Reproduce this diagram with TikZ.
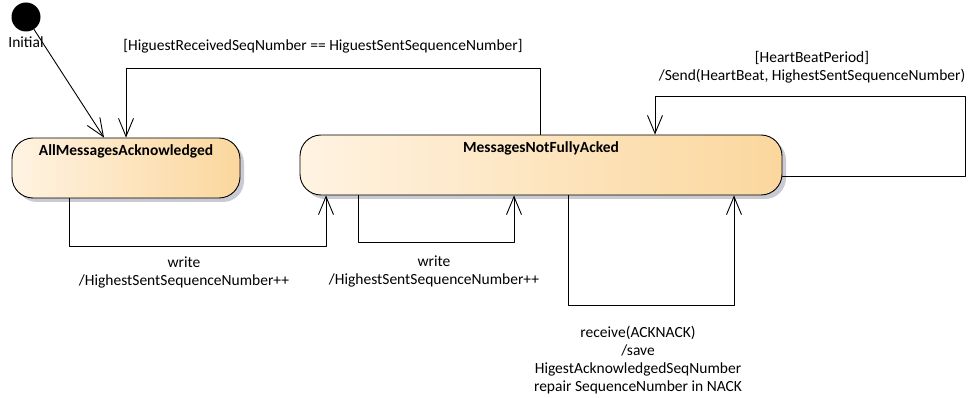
\documentclass[tikz,border=0pt]{standalone}
\usepackage{fontspec}
\setmainfont{Carlito}
\usetikzlibrary{arrows.meta, shadows}
\definecolor{stateleft}{RGB}{255,243,226}
\definecolor{stateright}{RGB}{251,215,157}
\definecolor{stateshadow}{RGB}{202,202,210}
\begin{document}
\begin{tikzpicture}[line cap=round,line join=round,x=1pt,y=-1pt,
    font=\fontsize{15.5}{18}\selectfont,
    state/.style={draw, line width=0.9pt, rounded corners=21pt, inner sep=0pt,
        left color=stateleft, right color=stateright,
        drop shadow={shadow xshift=4pt, shadow yshift=-4pt, fill=stateshadow, opacity=1}},
    statetitle/.style={anchor=north, yshift=-4pt, font=\fontsize{15.5}{18}\selectfont\bfseries},
    trans/.style={line width=0.9pt, -{Straight Barb[length=18pt,width=15pt,line width=0.9pt]}},
    translabel/.style={align=center, inner sep=0pt}]
    \useasboundingbox (0,0) rectangle (975,398);

    % States
    \node[circle, fill=black, minimum size=29pt, inner sep=0pt] (init) [label={[yshift=-2pt]below:Initial}] at (26,17) {};
    \node[state, minimum width=228pt, minimum height=60pt] (allacked) [label={[statetitle]north:AllMessagesAcknowledged}] at (126,168) {};
    \node[state, minimum width=482pt, minimum height=60pt] (notacked) [label={[statetitle]north:MessagesNotFullyAcked}] at (541,165) {};

    % Bends
    \coordinate (i1) at (104,138);
    \coordinate (g1) at (540,68);
    \coordinate (g2) at (126,68);
    \coordinate (h1) at (965,176);
    \coordinate (h2) at (965,96);
    \coordinate (h3) at (655,96);
    \coordinate (wa1) at (69,246);
    \coordinate (wa2) at (326,246);
    \coordinate (wb1) at (358,242);
    \coordinate (wb2) at (514,242);
    \coordinate (r1) at (568,305);
    \coordinate (r2) at (734,305);

    % Transitions
    \draw[trans] (init) -- (allacked.north -| i1);
    \draw[trans] (notacked.north -| g1) -- (g1) -- (g2) -- (allacked.north -| g2);
    \draw[trans] (notacked.east |- h1) -- (h1) -- (h2) -- (h3) -- (notacked.north -| h3);
    \draw[trans] (allacked.south -| wa1) -- (wa1) -- (wa2) -- (notacked.south -| wa2);
    \draw[trans] (notacked.south -| wb1) -- (wb1) -- (wb2) -- (notacked.south -| wb2);
    \draw[trans] (notacked.south -| r1) -- (r1) -- (r2) -- (notacked.south -| r2);

    % Labels
    \node[translabel] (guardlabel) at (323,46) {[HiguestReceivedSeqNumber == HiguestSentSequenceNumber]};
    \node[translabel] (beatlabel) at (812,67) {[HeartBeatPeriod]\\/Send(HeartBeat, HighestSentSequenceNumber)};
    \node[translabel] (writelabela) at (184,273) {write\\/HighestSentSequenceNumber++};
    \node[translabel] (writelabelb) at (434,271) {write\\/HighestSentSequenceNumber++};
    \node[translabel] (receivelabel) at (638,360) {receive(ACKNACK)\\/save\\HigestAcknowledgedSeqNumber\\repair SequenceNumber in NACK};
\end{tikzpicture}
\end{document}
